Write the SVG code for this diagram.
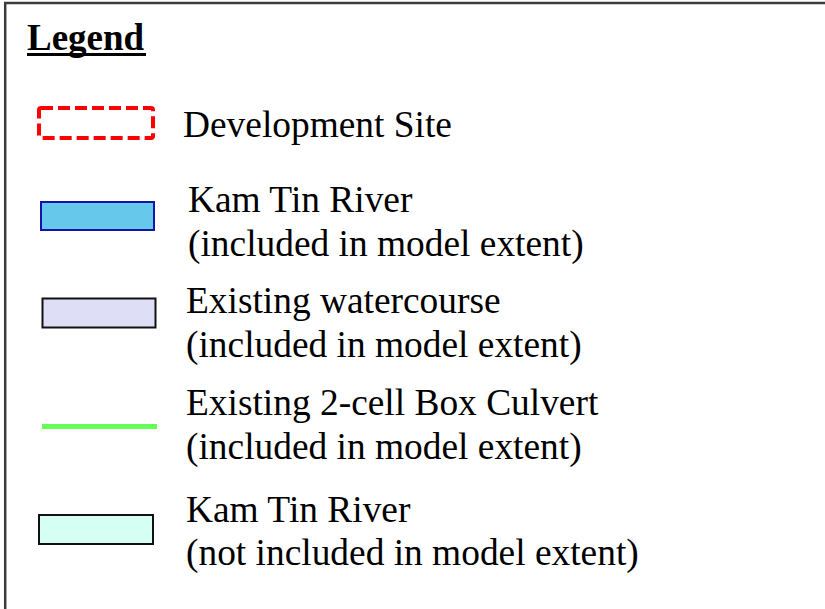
<svg xmlns="http://www.w3.org/2000/svg" width="825" height="609" viewBox="0 0 825 609">
  <style>
    .lbl { font-family: "Liberation Serif", "Times New Roman", serif; font-size: 37.4px; fill: #000; }
    .title { font-family: "Liberation Serif", "Times New Roman", serif; font-size: 37px; font-weight: bold; fill: #000; }
    .frame { stroke: #3c3c3c; stroke-width: 2.5; fill: none; }
    .swatch { stroke-width: 2; }
  </style>
  <rect width="825" height="609" fill="#ffffff"/>

  <!-- panel frame (top and left edges visible) -->
  <g id="frame">
    <line class="frame" x1="4" y1="3" x2="825" y2="3"/>
    <line class="frame" x1="5.2" y1="2" x2="5.2" y2="609"/>
  </g>

  <!-- heading -->
  <g id="legend-title">
    <text class="title" x="27" y="50">Legend</text>
    <rect x="27" y="53" width="119" height="3" fill="#000"/>
  </g>

  <g id="item-development-site">
    <rect x="39" y="108" width="114" height="30" rx="2" fill="none" stroke="#ff0000" stroke-width="4" stroke-dasharray="12 5" stroke-linejoin="round"/>
    <text class="lbl" x="183" y="137">Development Site</text>
  </g>

  <g id="item-kam-tin-included">
    <rect class="swatch" x="41" y="202" width="113" height="28" fill="#66c8eb" stroke="#1414a8"/>
    <text class="lbl" x="188" y="212">Kam Tin River</text>
    <text class="lbl" x="188" y="256">(included in model extent)</text>
  </g>

  <g id="item-watercourse">
    <rect class="swatch" x="42.5" y="298.5" width="113" height="29" fill="#dedef6" stroke="#111"/>
    <text class="lbl" x="186" y="313">Existing watercourse</text>
    <text class="lbl" x="186" y="357">(included in model extent)</text>
  </g>

  <g id="item-box-culvert">
    <line x1="42" y1="426.5" x2="157" y2="426.5" stroke="#66ff55" stroke-width="5"/>
    <text class="lbl" x="186" y="415">Existing 2-cell Box Culvert</text>
    <text class="lbl" x="186" y="459">(included in model extent)</text>
  </g>

  <g id="item-kam-tin-excluded">
    <rect class="swatch" x="39" y="515" width="114" height="29" fill="#d6fff4" stroke="#111"/>
    <text class="lbl" x="186" y="522">Kam Tin River</text>
    <text class="lbl" x="186" y="565">(not included in model extent)</text>
  </g>
</svg>
